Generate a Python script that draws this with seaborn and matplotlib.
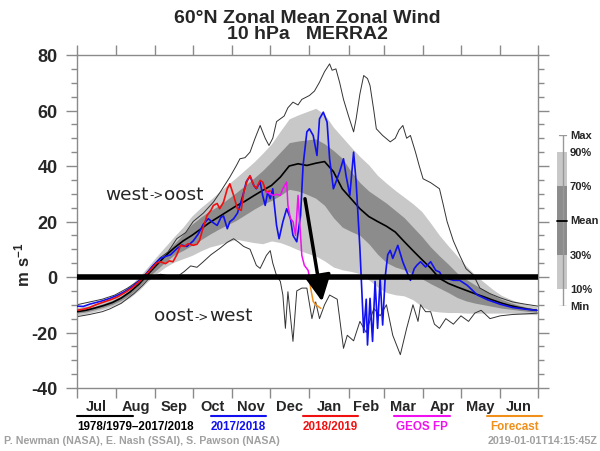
import numpy as np
import pandas as pd
import matplotlib
matplotlib.use('Agg')
import matplotlib.pyplot as plt
from matplotlib.lines import Line2D
from matplotlib.patches import Rectangle
from matplotlib.ticker import MultipleLocator
import seaborn as sns

# x axis = days since 1 July
months = ['Jul', 'Aug', 'Sep', 'Oct', 'Nov', 'Dec', 'Jan', 'Feb', 'Mar', 'Apr', 'May', 'Jun']
month_edges = [0, 31, 62, 92, 123, 153, 184, 215, 243, 274, 304, 335, 365]

clim_day = [0, 7, 14, 21, 28, 35, 42, 49, 56, 63, 70, 77, 84, 91, 98, 105, 112, 119, 126,
            133, 140, 147, 154, 161, 168, 175, 182, 189, 196, 203, 210, 217, 224, 231, 238,
            245, 252, 259, 266, 273, 280, 287, 294, 301, 308, 315, 322, 329, 336, 343, 350,
            357, 364]
clim_mean = [-12.5, -12.0, -11.2, -10.3, -9.2, -7.6, -5.4, -2.6, 0.9, 4.3, 7.6, 10.5, 13.0,
             15.0, 17.3, 19.6, 21.6, 23.6, 25.6, 27.3, 29.3, 31.2, 33.0, 36.0, 40.0, 40.8,
             40.2, 41.0, 41.6, 38.0, 31.8, 28.2, 24.6, 21.8, 20.0, 18.3, 16.2, 12.8, 9.5, 6.3,
             3.2, -0.5, -2.3, -3.6, -4.8, -6.0, -7.1, -8.3, -9.4, -10.3, -11.0, -11.6, -12.0]
clim_p90 = [-11.0, -10.5, -9.6, -8.5, -7.2, -5.4, -3.0, 0.0, 3.6, 7.4, 11.0, 14.6, 18.0,
            22.0, 25.0, 27.6, 30.4, 33.2, 35.8, 38.6, 41.4, 44.6, 48.0, 52.6, 57.0, 58.4,
            59.6, 60.8, 58.6, 54.0, 50.4, 46.8, 43.4, 40.4, 36.6, 33.8, 31.2, 28.8, 26.4,
            23.6, 19.4, 15.0, 11.2, 7.6, 4.0, 0.8, -1.8, -4.4, -6.6, -8.0, -9.2, -10.0, -10.6]
clim_p70 = [-12.0, -11.4, -10.6, -9.6, -8.4, -6.8, -4.6, -1.8, 1.8, 5.2, 8.6, 12.0, 15.4,
            19.0, 21.6, 23.8, 25.6, 28.0, 30.4, 33.0, 35.6, 38.4, 41.6, 45.0, 48.4, 49.0,
            49.4, 49.8, 48.0, 45.6, 42.8, 38.0, 34.0, 31.0, 28.8, 26.6, 24.0, 21.4, 18.0,
            14.6, 10.8, 7.6, 4.6, 1.4, -0.8, -2.8, -4.6, -6.4, -8.0, -9.2, -10.2, -11.0, -11.6]
clim_p30 = [-13.0, -12.6, -11.8, -10.9, -9.9, -8.4, -6.4, -3.6, -0.2, 2.6, 5.4, 8.0, 9.6,
            11.4, 13.4, 15.4, 17.2, 18.8, 20.4, 22.4, 24.4, 26.2, 27.6, 29.4, 31.6, 31.0,
            29.8, 28.4, 25.8, 21.4, 18.0, 16.4, 15.0, 12.0, 8.2, 5.2, 3.6, 2.6, 1.0, -0.6,
            -2.4, -4.0, -5.6, -7.4, -8.6, -9.4, -10.0, -10.6, -11.2, -11.6, -12.0, -12.4, -12.6]
clim_p10 = [-13.8, -13.3, -12.5, -11.6, -10.6, -9.2, -7.4, -4.8, -1.6, 1.2, 3.6, 5.4, 6.6,
            7.8, 9.4, 10.8, 11.6, 12.6, 13.6, 13.0, 12.4, 12.0, 13.0, 12.4, 11.2, 9.8, 8.6,
            7.6, 5.8, 3.6, 2.6, 2.0, 1.2, -1.0, -3.6, -5.6, -6.4, -6.8, -8.2, -10.6, -12.2,
            -12.6, -12.8, -12.8, -13.0, -13.0, -13.0, -13.0, -13.0, -13.0, -13.2, -13.4, -13.6]

max_day = [0, 10, 20, 30, 40, 50, 58, 66, 72, 79, 86, 92, 100, 108, 114, 121, 126, 129, 133,
           137, 141, 145, 149, 152, 155, 158, 161, 164, 167, 171, 175, 178, 184, 188, 192,
           196, 200, 202, 205, 208, 211, 215, 219, 221, 224, 227, 230, 232, 235, 237, 242,
           248, 252, 255, 258, 261, 264, 268, 271, 274, 280, 287, 290, 293, 298, 303, 308,
           314, 319, 327, 335, 345, 355, 365]
max_val = [-10, -9, -8, -6.5, -4, -1, 3, 7, 9, 13.8, 16, 20, 23, 27, 31, 36, 40, 42.6, 43,
           45, 50, 54.6, 50, 47.4, 50, 56, 57, 58, 61, 63, 62, 64, 65.4, 67, 70.2, 74, 76.8,
           74.5, 75, 70, 64, 58, 52.3, 57, 66, 72.6, 71.5, 69, 60, 53.4, 51, 48.7, 50, 53,
           54.6, 50, 51, 45, 40, 35.4, 34, 31.8, 26, 20, 13, 7.8, 3, 0.6, -4, -6, -7.5, -9,
           -9.8, -10.5]

min_day = [0, 10, 20, 26, 35, 45, 52, 58, 66, 72, 79, 85, 90, 95, 100, 106, 113, 119, 124,
           128, 132, 137, 142, 145, 150, 153, 155, 158, 161, 163, 165, 167, 171, 174, 178,
           182, 186, 189, 192, 196, 200, 206, 211, 214, 219, 224, 229, 235, 240, 245, 250,
           256, 261, 266, 270, 272, 276, 280, 283, 287, 292, 298, 304, 310, 315, 320, 327,
           335, 345, 355, 365]
min_val = [-14.3, -13.5, -12.5, -11.5, -9.5, -6, -3, 0, 1, 0.5, 0, 2, 4, 3.5, 5.5, 8, 10.3,
           12.5, 13.8, 12.5, 11, 10, 4.2, 3.1, 7.8, 9.5, 5, 0.5, -1.6, -6.5, -18.5, -5.3,
           -23.2, -5, -4, -4, -15, -9, -15, -10, -6.5, -8, -25.7, -21, -23, -16, -20, -11.3,
           -14, -10, -21, -28, -18.5, -10, -16, -10, -12.5, -12.5, -17, -18.5, -15, -17, -14,
           -16, -13, -12, -15, -14, -13.5, -13.3, -13]

# 2017/2018
y1718_day = [0, 5, 10, 15, 20, 26, 32, 38, 44, 50, 55, 60, 66, 70, 74, 79, 83, 87, 92, 96,
             100, 104, 108, 111, 114, 116, 119, 121, 124, 127, 129, 132, 134, 137, 140, 142,
             145, 147, 149, 151, 153, 155, 156, 158, 160, 163, 166, 169, 171, 174, 177, 179,
             182, 184, 187, 190, 192, 195, 198, 200, 203, 205, 208, 211, 213, 216, 219, 221,
             224, 227, 229, 230, 232, 234, 236, 238, 240, 242, 244, 246, 248, 250, 254, 258,
             261, 264, 267, 269, 272, 276, 280, 284, 287, 290, 293, 298, 303, 309, 317, 325,
             335, 345, 355, 364]
y1718_val = [-10.5, -10.6, -9.8, -9.2, -8.6, -7.7, -6.6, -5.2, -3.4, -1.0, 1.2, 4.0, 6.7,
             7.4, 8.0, 10.2, 11.5, 11.0, 13.0, 15.5, 19.0, 21.0, 19.5, 18.6, 21.5, 22.0, 17.4,
             19.9, 21.0, 23.0, 25.8, 30.5, 34.3, 36.3, 33.0, 31.8, 34.3, 29.4, 25.8, 30.6,
             28.2, 31.8, 27.0, 18.6, 13.8, 19.9, 24.6, 21.0, 15.0, 12.7, 22.2, 40.2, 52.3,
             53.4, 51.0, 43.8, 57.0, 59.4, 55.8, 42.6, 31.8, 34.2, 38.0, 42.6, 36.6, 29.4,
             45.0, 34.2, 10.2, -20.0, -8.0, -24.5, -7.7, -23.2, -1.6, -18.5, -0.5, -17.3, 0.0,
             8.0, 9.6, 6.7, 11.4, 5.4, 2.0, -1.2, 3.0, 4.2, 5.5, 3.6, 5.5, 2.4, 1.8, -0.5,
             -0.5, -1.2, -1.2, -3.0, -6.5, -8.2, -9.8, -11.0, -11.6, -12.0]

# 2018/2019 (MERRA2), then GEOS FP, then forecast
y1819_day = [0, 5, 10, 15, 20, 26, 32, 38, 44, 50, 55, 60, 63, 66, 70, 73, 76, 79, 82, 85,
             88, 92, 95, 97, 100, 103, 106, 108, 111, 113, 116, 119, 121, 124, 127, 130, 132,
             135, 137, 140, 142, 145, 147, 150, 153]
y1819_val = [-12.0, -11.6, -11.0, -10.0, -9.2, -8.3, -7.2, -5.6, -3.8, -1.4, 1.0, 3.5, 5.0,
             5.5, 4.8, 5.8, 5.5, 8.0, 11.4, 11.0, 12.0, 11.4, 11.8, 13.2, 18.0, 22.2, 24.0,
             25.8, 26.5, 24.6, 27.0, 31.8, 33.6, 29.4, 24.6, 24.0, 30.6, 35.0, 36.5, 33.0,
             32.0, 34.8, 34.2, 30.6, 31.0]
geos_day = [150, 153, 155, 158, 161, 163, 166, 167, 169, 171, 173, 175, 177, 178, 180, 183, 184]
geos_val = [30.6, 30.0, 29.4, 29.8, 29.4, 31.8, 34.2, 25.8, 21.0, 20.0, 15.0, 29.4, 15.0,
            7.8, 4.2, 2.4, 0.0]
fc_day = [184, 185, 187, 189, 191, 193]
fc_val = [0.0, -4.0, -8.8, -10.0, -10.6, -11.3]

# side legend: percentile boxes
leg_levels = [0.0, 0.1, 0.3, 0.5, 0.7, 0.9, 1.0]
leg_labels = ['Min', '10%', '30%', 'Mean', '70%', '90%', 'Max']

sns.set_style('ticks')
plt.rcParams['font.family'] = ['Liberation Sans', 'DejaVu Sans']
plt.rcParams['mathtext.fontset'] = 'custom'
plt.rcParams['mathtext.bf'] = 'Liberation Sans:bold'
plt.rcParams['mathtext.rm'] = 'Liberation Sans'

LIGHT = '#c8c8c8'
DARK = '#8c8c8c'
BLUE = '#1010f0'
RED = '#f01010'
MAG = '#f010f0'
ORANGE = '#f0901a'
SPINE = '#8a8a8a'

fig = plt.figure(figsize=(6, 4.52), dpi=100)
ax = fig.add_axes([77/600, 1-389/452, 461/600, 333/452])

ax.fill_between(clim_day, clim_p10, clim_p90, color=LIGHT, lw=0, zorder=1)
ax.fill_between(clim_day, clim_p30, clim_p70, color=DARK, lw=0, zorder=1)

sns.lineplot(x=max_day, y=max_val, color='#333333', lw=0.7, ax=ax, zorder=2)
sns.lineplot(x=min_day, y=min_val, color='#333333', lw=0.7, ax=ax, zorder=2)
sns.lineplot(x=clim_day, y=clim_mean, color='black', lw=1.2, ax=ax, zorder=3)
sns.lineplot(x=y1718_day, y=y1718_val, color=BLUE, lw=1.2, ax=ax, zorder=4)
sns.lineplot(x=y1819_day, y=y1819_val, color=RED, lw=1.2, ax=ax, zorder=4)
sns.lineplot(x=geos_day, y=geos_val, color=MAG, lw=1.1, ax=ax, zorder=4)
sns.lineplot(x=fc_day, y=fc_val, color=ORANGE, lw=1.1, ax=ax, zorder=4)

ax.axhline(0, color='black', lw=4, zorder=5)

# arrow showing the reversal
ax.annotate('', xy=(194, -8.8), xytext=(180.5, 28.2),
            arrowprops=dict(arrowstyle='-|>,head_length=0.9,head_width=0.45',
                            lw=2.5, color='black', mutation_scale=18, shrinkA=0, shrinkB=0),
            zorder=6)


def arrow_label(x, y, left, right):
    # word, small "->", word, chained on one baseline
    t1 = ax.text(x, y, left, fontsize=13.3, family='DejaVu Sans', va='baseline', zorder=6)
    t2 = ax.annotate('->', xy=(1, 0), xycoords=t1, xytext=(0.5, 1.3),
                     textcoords='offset points', fontsize=8.5, family='DejaVu Sans',
                     va='bottom', zorder=6)
    ax.annotate(right, xy=(1, 0), xycoords=t2, xytext=(0.5, -1.3),
                textcoords='offset points', fontsize=13.3, family='DejaVu Sans',
                va='bottom', zorder=6)


arrow_label(22.0, 28.2, 'west', 'oost')
arrow_label(60.8, -15.5, 'oost', 'west')

ax.set_xlim(0, 365)
ax.set_ylim(-40, 80)
ax.set_xlabel('')
ax.set_ylabel('')
ax.set_xticks(month_edges)
ax.set_xticklabels([])
mids = [(a + b) / 2 for a, b in zip(month_edges[:-1], month_edges[1:])]
ax.set_xticks(mids, minor=True)
ax.set_xticklabels(months, minor=True, fontsize=10.5, fontweight='bold')
ax.tick_params(axis='x', which='major', top=True, direction='out', length=7,
               width=1, color=SPINE)
ax.tick_params(axis='x', which='minor', length=0, pad=8)
ax.set_yticks(list(range(-40, 81, 20)))
ax.yaxis.set_minor_locator(MultipleLocator(5))
ax.set_yticklabels([str(v) for v in range(-40, 81, 20)], fontsize=13, fontweight='bold')
ax.tick_params(axis='y', which='major', right=True, direction='out', length=8,
               width=1, color=SPINE, pad=6)
ax.tick_params(axis='y', which='minor', right=True, direction='out', length=4,
               width=1, color=SPINE)
for s in ax.spines.values():
    s.set_color(SPINE)
    s.set_linewidth(1)

fig.text(22/600, 1-265/452, r'$\mathbf{m\ s^{-1}}$', rotation=90, fontsize=12,
         ha='center', va='center')

# two-line title as one text block
fig.text(307/600, 1-26.5/452, '60°N Zonal Mean Zonal Wind\n10 hPa   MERRA2',
         ha='center', va='center', ma='center', fontsize=14, fontweight='bold',
         linespacing=0.88)

# percentile legend on the right
lax = fig.add_axes([555/600, 1-307/452, 15/600, 171/452])
lax.set_xlim(0, 1)
lax.set_ylim(0, 1)
lax.axis('off')
lax.plot([0.5, 0.5], [leg_levels[0], leg_levels[-1]], color='#999999', lw=1)
lax.plot([0.27, 0.73], [leg_levels[0]] * 2, color='#999999', lw=1)
lax.plot([0.27, 0.73], [leg_levels[-1]] * 2, color='#999999', lw=1)
lax.add_patch(Rectangle((0.13, leg_levels[1]), 0.67, leg_levels[5] - leg_levels[1],
                        color=LIGHT, lw=0))
lax.add_patch(Rectangle((0.13, leg_levels[2]), 0.67, leg_levels[4] - leg_levels[2],
                        color=DARK, lw=0))
lax.plot([0.13, 0.8], [leg_levels[3]] * 2, color='black', lw=1.3)
for lev, lab in zip(leg_levels, leg_labels):
    fig.text(570/600, (1-307/452) + lev * 171/452, lab, fontsize=8, fontweight='bold',
             va='center', ha='left')

# legend below the axis
legend_items = [('1978/1979–2017/2018', 'black', 77, 133, 'left'),
                ('2017/2018', BLUE, 211, 266, 'center'),
                ('2018/2019', RED, 303, 358, 'center'),
                ('GEOS FP', MAG, 394, 450, 'center'),
                ('Forecast', ORANGE, 487, 542, 'center')]
for lab, col, x0, x1, ha in legend_items:
    fig.add_artist(Line2D([x0/600, x1/600], [1-416.5/452] * 2, color=col, lw=1.5))
    tx = x0 if ha == 'left' else (x0 + x1) / 2
    fig.text(tx/600, 1-427/452, lab, color=col, fontsize=8.4, fontweight='bold',
             ha=ha, va='center')

fig.text(4/600, 1-441.5/452, 'P. Newman (NASA), E. Nash (SSAI), S. Pawson (NASA)',
         color='#a0a0a0', fontsize=7.65, fontweight='bold', va='center', ha='left')
fig.text(597/600, 1-441.5/452, '2019-01-01T14:15:45Z', color='#a0a0a0', fontsize=7.65,
         fontweight='bold', va='center', ha='right')

fig.savefig('out.png', dpi=100)
